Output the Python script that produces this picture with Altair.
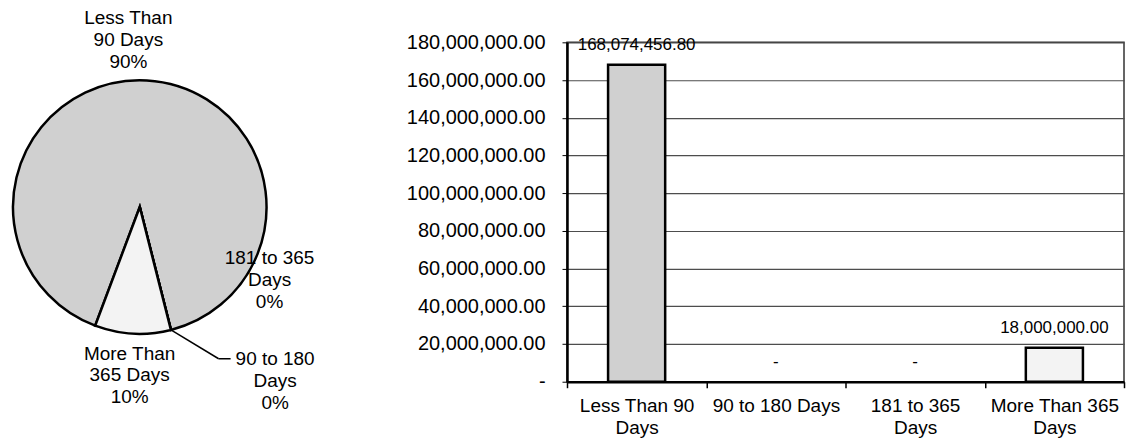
import math
import altair as alt
import pandas as pd

# ---------------- data ----------------
categories = ["Less Than 90 Days", "90 to 180 Days", "181 to 365 Days", "More Than 365 Days"]
amounts = [168074456.80, 0.0, 0.0, 18000000.00]
pie_label_lines = [["Less Than", "90 Days"], ["90 to 180", "Days"], ["181 to 365", "Days"], ["More Than", "365 Days"]]
axis_label_lines = [["Less Than 90", "Days"], ["90 to 180 Days"], ["181 to 365", "Days"], ["More Than 365", "Days"]]
y_tick_values = [0, 20000000, 40000000, 60000000, 80000000, 100000000, 120000000, 140000000, 160000000, 180000000]

# ---------------- styling ----------------
FONT = "Liberation Sans"
fills = ["#d0d0d0", "#d0d0d0", "#d0d0d0", "#f3f3f3"]

total = sum(amounts)
pcts = [round(a / total * 100) for a in amounts]
df = pd.DataFrame({
    "category": categories,
    "amount": amounts,
    "idx": list(range(len(categories))),
    "pie_text": [lines + [f"{p}%"] for lines, p in zip(pie_label_lines, pcts)],
})

# ---------------- pie ----------------
START = math.radians(200.6)
CX, CY, R = 131, 165, 127

pie_base = alt.Chart(df)
arcs = pie_base.mark_arc(outerRadius=R, stroke="black", strokeWidth=2.5).encode(
    theta=alt.Theta("amount:Q", stack=True, scale=alt.Scale(range=[START, START + 2 * math.pi])),
    order=alt.Order("idx:Q"),
    color=alt.Color("category:N", scale=alt.Scale(domain=categories, range=fills), legend=None),
    x=alt.value(CX),
    y=alt.value(CY),
)

label_base = pie_base.transform_window(
    cum="sum(amount)", sort=[alt.SortField("idx")]
).transform_joinaggregate(
    tot="sum(amount)"
).transform_calculate(
    mid=f"{START} + 2 * PI * (datum.cum - datum.amount / 2) / datum.tot"
)

# (radius from pie centre, horizontal nudge) for each label block
label_place = {
    "Less Than 90 Days": (190, -22),
    "90 to 180 Days": (157, 97),
    "181 to 365 Days": (53, 117),
    "More Than 365 Days": (147, -2),
}
pie_texts = []
for cat, (rad, dx) in label_place.items():
    pie_texts.append(
        label_base.transform_filter(alt.datum.category == cat).mark_text(
            radius=rad, dx=dx, fontSize=19, lineHeight=22, align="center",
            baseline="middle", font=FONT, color="black"
        ).encode(
            theta=alt.Theta("mid:Q", scale=None),
            text="pie_text",
            x=alt.value(CX),
            y=alt.value(CY),
        )
    )

# leader line for the "90 to 180 Days" label, starting on the circle at its boundary angle
cum_before = sum(amounts[:1])
ang = START + 2 * math.pi * cum_before / total
px, py = CX + R * math.sin(ang), CY - R * math.cos(ang)
ELBOW_X, ELBOW_Y, END_X = 210, 317, 222
leader_df = pd.DataFrame({"k": [0]})
leader1 = alt.Chart(leader_df).mark_rule(color="black", strokeWidth=1.5).encode(
    x=alt.value(px), y=alt.value(py), x2=alt.value(ELBOW_X), y2=alt.value(ELBOW_Y))
leader2 = alt.Chart(leader_df).mark_rule(color="black", strokeWidth=1.5).encode(
    x=alt.value(ELBOW_X), y=alt.value(ELBOW_Y), x2=alt.value(END_X), y2=alt.value(ELBOW_Y))

pie = alt.layer(arcs, *pie_texts, leader1, leader2).properties(
    width=262, height=340, view=alt.ViewBackground(strokeOpacity=0)
)

# ---------------- bar ----------------
def lines_expr(cats, lines):
    parts = []
    for c, ls in zip(cats, lines):
        arr = "[" + ", ".join("'" + s + "'" for s in ls) + "]"
        parts.append(f"datum.value == '{c}' ? {arr} : ")
    return "".join(parts) + "datum.value"

x_enc = alt.X(
    "category:N",
    sort=categories,
    scale=alt.Scale(domain=categories, paddingInner=0, paddingOuter=0),
    axis=alt.Axis(
        title=None, labelAngle=0, tickBand="extent", labelExpr=lines_expr(categories, axis_label_lines),
        labelLineHeight=22, labelPadding=9, tickSize=6, tickColor="black", tickWidth=1.5,
        domainColor="black", domainWidth=2.5, grid=False, labelFontSize=19, labelFont=FONT,
        labelColor="black",
    ),
)
y_enc = alt.Y(
    "amount:Q",
    scale=alt.Scale(domain=[0, 180000000]),
    axis=alt.Axis(
        title=None, values=y_tick_values,
        labelExpr="datum.value == 0 ? '-\u00a0\u00a0' : format(datum.value, ',.2f')",
        labelPadding=17, tickSize=5, tickColor="black", tickWidth=1,
        domainColor="black", domainWidth=2.5, gridColor="#4d4d4d", gridWidth=1.2,
        labelFontSize=20, labelFont=FONT, labelColor="black",
    ),
)

bar_base = alt.Chart(df).encode(x=x_enc, y=y_enc)
bars = bar_base.mark_bar(width=alt.RelativeBandSize(0.41), stroke="black").encode(
    color=alt.Color("category:N", scale=alt.Scale(domain=categories, range=fills), legend=None),
    strokeWidth=alt.condition(alt.datum.amount == 0, alt.value(0), alt.value(2.5)),
)
bar_labels = bar_base.transform_calculate(
    bar_text="datum.amount == 0 ? '-' : format(datum.amount, ',.2f')"
).mark_text(dy=-20, fontSize=17, font=FONT, color="black", baseline="middle").encode(
    text="bar_text:N"
)

bar = alt.layer(bars, bar_labels).properties(
    width=558, height=340, view=alt.ViewBackground(stroke="#333333", strokeWidth=1.5)
)

chart = alt.hconcat(pie, bar, spacing=297, bounds="flush").properties(
    padding={"left": 0, "top": 0, "right": 0, "bottom": 0}
).configure(font=FONT).configure_view(strokeWidth=0)

chart.save("out.html", embed_options={"renderer": "svg", "actions": False})
